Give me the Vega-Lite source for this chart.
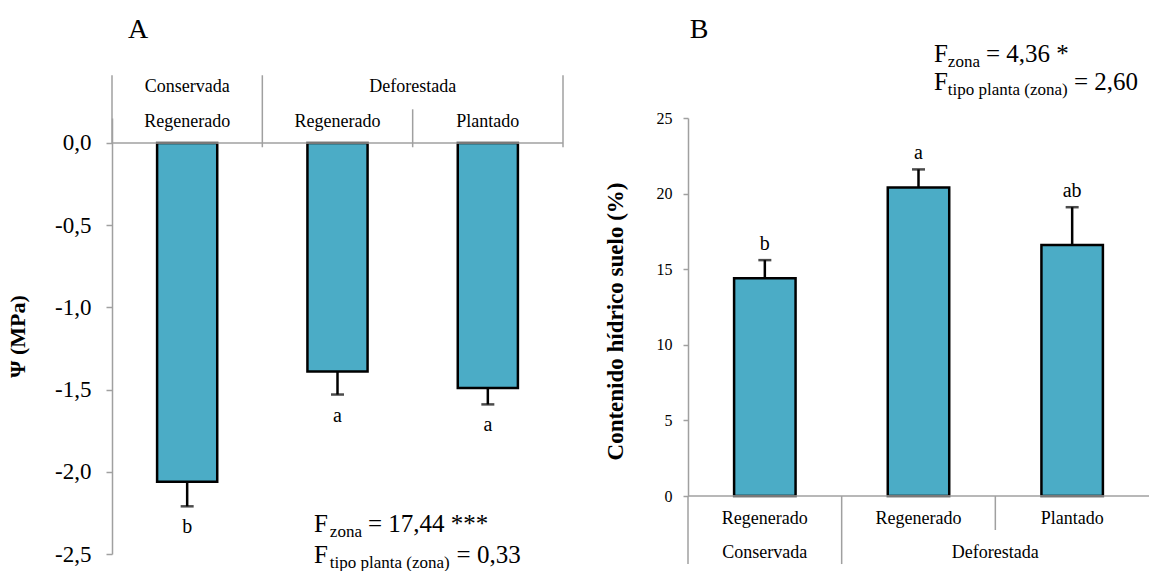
{
  "$schema": "https://vega.github.io/schema/vega-lite/v6.json",
  "background": "white",
  "padding": {"left": 6, "top": 16, "right": 0, "bottom": 0},
  "config": {
    "font": "Liberation Serif",
    "view": {"stroke": null},
    "text": {"font": "Liberation Serif", "color": "black"},
    "axisY": {"grid": false, "labelColor": "black", "titleColor": "black", "domainColor": "#a0a0a0", "tickColor": "#a0a0a0", "domainWidth": 1.5, "tickWidth": 1.5, "labelOverlap": false, "labelBound": false, "titleFontWeight": "bold", "labelFont": "Liberation Serif", "titleFont": "Liberation Serif"}
  },
  "datasets": {
    "barsA": [
      {"grupo": "C-R", "zona": "Conservada", "tipo": "Regenerado", "media": -2.06, "lim": -2.21, "letra": "b"},
      {"grupo": "D-R", "zona": "Deforestada", "tipo": "Regenerado", "media": -1.39, "lim": -1.53, "letra": "a"},
      {"grupo": "D-P", "zona": "Deforestada", "tipo": "Plantado", "media": -1.49, "lim": -1.59, "letra": "a"}
    ],
    "barsB": [
      {"grupo": "C-R", "zona": "Conservada", "tipo": "Regenerado", "media": 14.4, "lim": 15.6, "letra": "b"},
      {"grupo": "D-R", "zona": "Deforestada", "tipo": "Regenerado", "media": 20.4, "lim": 21.6, "letra": "a"},
      {"grupo": "D-P", "zona": "Deforestada", "tipo": "Plantado", "media": 16.6, "lim": 19.1, "letra": "ab"}
    ],
    "linesA": [
      {"x": 0, "x2": 0, "y": 0, "y2": 0.412},
      {"x": 1, "x2": 1, "y": -0.026, "y2": 0.412},
      {"x": 2, "x2": 2, "y": -0.026, "y2": 0.205},
      {"x": 3, "x2": 3, "y": -0.026, "y2": 0.412},
      {"x": 0, "x2": 3, "y": 0, "y2": 0}
    ],
    "linesB": [
      {"x": 0, "x2": 0, "y": 0, "y2": -4.5},
      {"x": 1, "x2": 1, "y": 0, "y2": -4.5},
      {"x": 2, "x2": 2, "y": 0, "y2": -2.25},
      {"x": 0, "x2": 3, "y": 0, "y2": 0}
    ],
    "zonesA": [
      {"x": 0.5, "y": 0.339, "t": "Conservada"},
      {"x": 2, "y": 0.339, "t": "Deforestada"}
    ],
    "zonesB": [
      {"x": 0.5, "y": -3.77, "t": "Conservada"},
      {"x": 2, "y": -3.77, "t": "Deforestada"}
    ],
    "mainA": [
      {"x": 1.344, "y": -2.368, "t": "F"},
      {"x": 1.703, "y": -2.368, "t": "= 17,44 ***"},
      {"x": 1.344, "y": -2.557, "t": "F"},
      {"x": 2.292, "y": -2.557, "t": "= 0,33"}
    ],
    "subA": [
      {"x": 1.449, "y": -2.398, "t": "zona"},
      {"x": 1.449, "y": -2.586, "t": "tipo planta (zona)"}
    ],
    "mainB": [
      {"x": 1.601, "y": 28.7, "t": "F"},
      {"x": 1.939, "y": 28.7, "t": "= 4,36 *"},
      {"x": 1.601, "y": 26.85, "t": "F"},
      {"x": 2.512, "y": 26.85, "t": "= 2,60"}
    ],
    "subB": [
      {"x": 1.691, "y": 28.37, "t": "zona"},
      {"x": 1.691, "y": 26.52, "t": "tipo planta (zona)"}
    ],
    "panelA": [{"x": 0.173, "y": 0.637, "t": "A"}],
    "panelB": [{"x": 0.072, "y": 30.29, "t": "B"}]
  },
  "spacing": 125,
  "bounds": "flush",
  "hconcat": [
    {
      "width": 451,
      "height": 436,
      "resolve": {"scale": {"x": "independent"}},
      "layer": [
        {
          "data": {"name": "barsA"},
          "mark": {"type": "bar", "fill": "#4BACC6", "stroke": "black", "strokeWidth": 2.5, "clip": false},
          "encoding": {
            "x": {"field": "grupo", "type": "nominal", "sort": null, "scale": {"paddingInner": 0.6, "paddingOuter": 0.3}, "axis": null},
            "y": {"field": "media", "type": "quantitative", "scale": {"domain": [-2.5, 0.152], "nice": false},
              "title": "Ψ (MPa)",
              "axis": {
                "values": [-2.5, -2, -1.5, -1, -0.5, 0],
                "labelExpr": "replace(replace(format(datum.value, '.1f'), '.', ','), '\u2212', '-')",
                "labelFontSize": 23, "labelPadding": 15, "tickSize": 6,
                "titleFontSize": 22, "titlePadding": 25
              }
            },
            "y2": {"datum": 0}
          }
        },
        {
          "data": {"name": "barsA"},
          "mark": {"type": "rule", "strokeWidth": 2.5, "color": "black", "clip": false},
          "encoding": {
            "x": {"field": "grupo", "type": "nominal", "sort": null, "scale": {"paddingInner": 0.6, "paddingOuter": 0.3}, "axis": null},
            "y": {"field": "media", "type": "quantitative", "scale": {"domain": [-2.5, 0.152], "nice": false}, "title": "Ψ (MPa)"},
            "y2": {"field": "lim"}
          }
        },
        {
          "data": {"name": "barsA"},
          "mark": {"type": "tick", "color": "black", "size": 13, "thickness": 2.5, "clip": false},
          "encoding": {
            "x": {"field": "grupo", "type": "nominal", "sort": null, "scale": {"paddingInner": 0.6, "paddingOuter": 0.3}, "axis": null},
            "y": {"field": "lim", "type": "quantitative", "scale": {"domain": [-2.5, 0.152], "nice": false}, "title": "Ψ (MPa)"}
          }
        },
        {
          "data": {"name": "barsA"},
          "mark": {"type": "text", "dy": 21, "baseline": "middle", "fontSize": 20, "clip": false},
          "encoding": {
            "x": {"field": "grupo", "type": "nominal", "sort": null, "scale": {"paddingInner": 0.6, "paddingOuter": 0.3}, "axis": null},
            "y": {"field": "lim", "type": "quantitative", "scale": {"domain": [-2.5, 0.152], "nice": false}, "title": "Ψ (MPa)"},
            "text": {"field": "letra"}
          }
        },
        {
          "data": {"name": "barsA"},
          "mark": {"type": "text", "baseline": "middle", "fontSize": 18, "clip": false},
          "encoding": {
            "x": {"field": "grupo", "type": "nominal", "sort": null, "scale": {"paddingInner": 0.6, "paddingOuter": 0.3}, "axis": null},
            "y": {"datum": 0.126, "type": "quantitative", "scale": {"domain": [-2.5, 0.152], "nice": false}, "title": "Ψ (MPa)"},
            "text": {"field": "tipo"}
          }
        },
        {
          "data": {"name": "linesA"},
          "mark": {"type": "rule", "color": "#a0a0a0", "strokeWidth": 1.5, "clip": false},
          "encoding": {
            "x": {"field": "x", "type": "quantitative", "scale": {"domain": [0, 3], "nice": false, "zero": false}, "axis": null},
            "x2": {"field": "x2"},
            "y": {"field": "y", "type": "quantitative", "scale": {"domain": [-2.5, 0.152], "nice": false}, "title": "Ψ (MPa)"},
            "y2": {"field": "y2"}
          }
        },
        {
          "data": {"name": "zonesA"},
          "mark": {"type": "text", "baseline": "middle", "fontSize": 18, "clip": false},
          "encoding": {
            "x": {"field": "x", "type": "quantitative", "scale": {"domain": [0, 3], "nice": false, "zero": false}, "axis": null},
            "y": {"field": "y", "type": "quantitative", "scale": {"domain": [-2.5, 0.152], "nice": false}, "title": "Ψ (MPa)"},
            "text": {"field": "t"}
          }
        },
        {
          "data": {"name": "mainA"},
          "mark": {"type": "text", "align": "left", "baseline": "alphabetic", "fontSize": 25, "clip": false},
          "encoding": {
            "x": {"field": "x", "type": "quantitative", "scale": {"domain": [0, 3], "nice": false, "zero": false}, "axis": null},
            "y": {"field": "y", "type": "quantitative", "scale": {"domain": [-2.5, 0.152], "nice": false}, "title": "Ψ (MPa)"},
            "text": {"field": "t"}
          }
        },
        {
          "data": {"name": "subA"},
          "mark": {"type": "text", "align": "left", "baseline": "alphabetic", "fontSize": 17, "clip": false},
          "encoding": {
            "x": {"field": "x", "type": "quantitative", "scale": {"domain": [0, 3], "nice": false, "zero": false}, "axis": null},
            "y": {"field": "y", "type": "quantitative", "scale": {"domain": [-2.5, 0.152], "nice": false}, "title": "Ψ (MPa)"},
            "text": {"field": "t"}
          }
        },
        {
          "data": {"name": "panelA"},
          "mark": {"type": "text", "align": "center", "baseline": "alphabetic", "fontSize": 28, "clip": false},
          "encoding": {
            "x": {"field": "x", "type": "quantitative", "scale": {"domain": [0, 3], "nice": false, "zero": false}, "axis": null},
            "y": {"field": "y", "type": "quantitative", "scale": {"domain": [-2.5, 0.152], "nice": false}, "title": "Ψ (MPa)"},
            "text": {"field": "t"}
          }
        }
      ]
    },
    {
      "width": 461,
      "height": 378,
      "resolve": {"scale": {"x": "independent"}},
      "layer": [
        {
          "data": {"name": "barsB"},
          "mark": {"type": "bar", "fill": "#4BACC6", "stroke": "black", "strokeWidth": 2.5, "clip": false},
          "encoding": {
            "x": {"field": "grupo", "type": "nominal", "sort": null, "scale": {"paddingInner": 0.6, "paddingOuter": 0.3}, "axis": null},
            "y": {"field": "media", "type": "quantitative", "scale": {"domain": [0, 25], "nice": false},
              "title": "Contenido hídrico suelo (%)",
              "axis": {
                "values": [0, 5, 10, 15, 20, 25],
                "format": "d",
                "labelFontSize": 16, "labelPadding": 11, "tickSize": 5,
                "titleFontSize": 23, "titlePadding": 29, "titleY": 203
              }
            },
            "y2": {"datum": 0}
          }
        },
        {
          "data": {"name": "barsB"},
          "mark": {"type": "rule", "strokeWidth": 2.5, "color": "black", "clip": false},
          "encoding": {
            "x": {"field": "grupo", "type": "nominal", "sort": null, "scale": {"paddingInner": 0.6, "paddingOuter": 0.3}, "axis": null},
            "y": {"field": "media", "type": "quantitative", "scale": {"domain": [0, 25], "nice": false}, "title": "Contenido hídrico suelo (%)"},
            "y2": {"field": "lim"}
          }
        },
        {
          "data": {"name": "barsB"},
          "mark": {"type": "tick", "color": "black", "size": 13, "thickness": 2.5, "clip": false},
          "encoding": {
            "x": {"field": "grupo", "type": "nominal", "sort": null, "scale": {"paddingInner": 0.6, "paddingOuter": 0.3}, "axis": null},
            "y": {"field": "lim", "type": "quantitative", "scale": {"domain": [0, 25], "nice": false}, "title": "Contenido hídrico suelo (%)"}
          }
        },
        {
          "data": {"name": "barsB"},
          "mark": {"type": "text", "dy": -16, "baseline": "middle", "fontSize": 20, "clip": false},
          "encoding": {
            "x": {"field": "grupo", "type": "nominal", "sort": null, "scale": {"paddingInner": 0.6, "paddingOuter": 0.3}, "axis": null},
            "y": {"field": "lim", "type": "quantitative", "scale": {"domain": [0, 25], "nice": false}, "title": "Contenido hídrico suelo (%)"},
            "text": {"field": "letra"}
          }
        },
        {
          "data": {"name": "barsB"},
          "mark": {"type": "text", "baseline": "middle", "fontSize": 18, "clip": false},
          "encoding": {
            "x": {"field": "grupo", "type": "nominal", "sort": null, "scale": {"paddingInner": 0.6, "paddingOuter": 0.3}, "axis": null},
            "y": {"datum": -1.52, "type": "quantitative", "scale": {"domain": [0, 25], "nice": false}, "title": "Contenido hídrico suelo (%)"},
            "text": {"field": "tipo"}
          }
        },
        {
          "data": {"name": "linesB"},
          "mark": {"type": "rule", "color": "#a0a0a0", "strokeWidth": 1.5, "clip": false},
          "encoding": {
            "x": {"field": "x", "type": "quantitative", "scale": {"domain": [0, 3], "nice": false, "zero": false}, "axis": null},
            "x2": {"field": "x2"},
            "y": {"field": "y", "type": "quantitative", "scale": {"domain": [0, 25], "nice": false}, "title": "Contenido hídrico suelo (%)"},
            "y2": {"field": "y2"}
          }
        },
        {
          "data": {"name": "zonesB"},
          "mark": {"type": "text", "baseline": "middle", "fontSize": 18, "clip": false},
          "encoding": {
            "x": {"field": "x", "type": "quantitative", "scale": {"domain": [0, 3], "nice": false, "zero": false}, "axis": null},
            "y": {"field": "y", "type": "quantitative", "scale": {"domain": [0, 25], "nice": false}, "title": "Contenido hídrico suelo (%)"},
            "text": {"field": "t"}
          }
        },
        {
          "data": {"name": "mainB"},
          "mark": {"type": "text", "align": "left", "baseline": "alphabetic", "fontSize": 25, "clip": false},
          "encoding": {
            "x": {"field": "x", "type": "quantitative", "scale": {"domain": [0, 3], "nice": false, "zero": false}, "axis": null},
            "y": {"field": "y", "type": "quantitative", "scale": {"domain": [0, 25], "nice": false}, "title": "Contenido hídrico suelo (%)"},
            "text": {"field": "t"}
          }
        },
        {
          "data": {"name": "subB"},
          "mark": {"type": "text", "align": "left", "baseline": "alphabetic", "fontSize": 17, "clip": false},
          "encoding": {
            "x": {"field": "x", "type": "quantitative", "scale": {"domain": [0, 3], "nice": false, "zero": false}, "axis": null},
            "y": {"field": "y", "type": "quantitative", "scale": {"domain": [0, 25], "nice": false}, "title": "Contenido hídrico suelo (%)"},
            "text": {"field": "t"}
          }
        },
        {
          "data": {"name": "panelB"},
          "mark": {"type": "text", "align": "center", "baseline": "alphabetic", "fontSize": 28, "clip": false},
          "encoding": {
            "x": {"field": "x", "type": "quantitative", "scale": {"domain": [0, 3], "nice": false, "zero": false}, "axis": null},
            "y": {"field": "y", "type": "quantitative", "scale": {"domain": [0, 25], "nice": false}, "title": "Contenido hídrico suelo (%)"},
            "text": {"field": "t"}
          }
        }
      ]
    }
  ]
}
